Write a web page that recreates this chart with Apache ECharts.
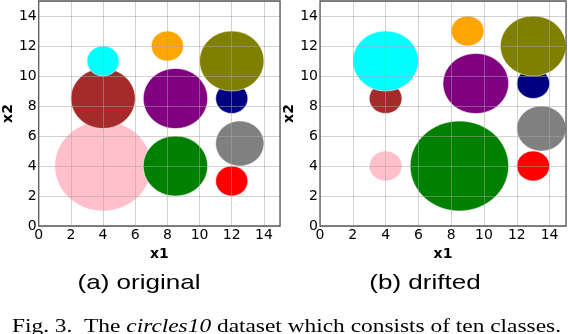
<!DOCTYPE html>
<html>
<head>
<meta charset="utf-8">
<script src="https://cdn.jsdelivr.net/npm/echarts@6/dist/echarts.min.js"></script>
<style>
  html, body { margin: 0; padding: 0; background: #fff; }
  #chart { width: 568px; height: 334px; }
</style>
</head>
<body>
<div id="chart"></div>
<script>
// ten classes, drawn in this order (later ones on top)
var classes = ['pink', 'green', 'red', 'gray', 'navy', 'purple', 'brown', 'olive', 'orange', 'cyan'];
var classColors = ['#ffc0cb', '#008000', '#ff0000', '#808080', '#000080', '#800080', '#a52a2a', '#808000', '#ffa500', '#00ffff'];

// (a) original
var origX = [4, 8.5, 12, 12.5, 12, 8.5, 4, 12, 8, 4];
var origY = [4, 4, 3, 5.5, 8.5, 8.5, 8.5, 11, 12, 11];
var origR = [3, 2, 1, 1.5, 1, 2, 2, 2, 1, 1];

// (b) drifted
var driftX = [4, 8.5, 13, 13.5, 13, 9.5, 4, 13, 9, 4];
var driftY = [4, 4, 4, 6.5, 9.5, 9.5, 8.5, 12, 13, 11];
var driftR = [1, 3, 1, 1.5, 1, 2, 1, 2, 1, 2];

var axisTicks = [0, 2, 4, 6, 8, 10, 12, 14];

function buildData(xs, ys, rs){
	var data = [];
	for(var i = 0; i < classes.length; ++i){
		data.push({
			name : classes[i],
			value : [xs[i], ys[i], rs[i]],
			itemStyle : { color : classColors[i] }
		});
	}
	return data;
}

function renderCircle(params, api){
	var c = api.coord([api.value(0), api.value(1)]);
	var s = api.size([api.value(2), api.value(2)]);
	return {
		type : 'ellipse',
		shape : { cx : c[0], cy : c[1], rx : s[0], ry : s[1] },
		style : {
			fill : api.visual('color'),
			stroke : 'rgba(255,255,255,0.55)',
			lineWidth : 1
		}
	};
}

function makeAxis(idx, isX){
	return {
		type : 'value',
		gridIndex : idx,
		min : 0,
		max : 15,
		interval : axisTicks[1] - axisTicks[0],
		z : 5,
		name : isX ? 'x1' : 'x2',
		nameLocation : 'middle',
		nameGap : isX ? 13 : 22,
		nameTextStyle : {
			fontFamily : 'DejaVu Sans',
			fontWeight : 'bold',
			fontSize : 14,
			color : '#000'
		},
		axisLine : { show : false },
		axisTick : { show : false },
		axisLabel : {
			showMaxLabel : false,
			margin : 2,
			fontFamily : 'DejaVu Sans',
			fontSize : 14,
			color : '#000'
		},
		splitLine : {
			show : true,
			lineStyle : { color : 'rgba(165,165,165,0.5)', width : 1 }
		}
	};
}

// figure caption, stretched to the width it takes in the reference
var capLeft = 12, capRight = 561;
var capFont = '19px "Liberation Serif"';
var capItalic = 'italic 19px "Liberation Serif"';
var capParts = ['Fig. 3.  The ', 'circles10', ' dataset which consists of ten classes.'];
var ctx = document.createElement('canvas').getContext('2d');
ctx.font = capFont;
var capWidth = ctx.measureText(capParts[0]).width + ctx.measureText(capParts[2]).width;
ctx.font = capItalic;
capWidth += ctx.measureText(capParts[1]).width;
var capScale = (capRight - capLeft) / capWidth;

var option = {
	animation : false,
	backgroundColor : '#fff',
	grid : [
		{ left : 34, top : 1, width : 246, height : 225, show : true, z : 6,
		  borderColor : '#5a5a5a', borderWidth : 1.3, backgroundColor : 'transparent' },
		{ left : 320, top : 1, width : 246, height : 225, show : true, z : 6,
		  borderColor : '#5a5a5a', borderWidth : 1.3, backgroundColor : 'transparent' }
	],
	xAxis : [makeAxis(0, true), makeAxis(1, true)],
	yAxis : [makeAxis(0, false), makeAxis(1, false)],
	series : [
		{
			name : 'original',
			type : 'custom',
			xAxisIndex : 0,
			yAxisIndex : 0,
			renderItem : renderCircle,
			data : buildData(origX, origY, origR)
		},
		{
			name : 'drifted',
			type : 'custom',
			xAxisIndex : 1,
			yAxisIndex : 1,
			renderItem : renderCircle,
			data : buildData(driftX, driftY, driftR)
		}
	],
	graphic : [
		{ type : 'text', x : 139, y : 283, scaleX : 1.24,
		  style : { text : '(a) original', font : '21px "Liberation Sans"', fill : '#000',
		            align : 'center', verticalAlign : 'middle' } },
		{ type : 'text', x : 425, y : 283, scaleX : 1.24,
		  style : { text : '(b) drifted', font : '21px "Liberation Sans"', fill : '#000',
		            align : 'center', verticalAlign : 'middle' } },
		{ type : 'text', x : capLeft, y : 327, scaleX : capScale,
		  style : {
			text : '{n|' + capParts[0] + '}{i|' + capParts[1] + '}{n|' + capParts[2] + '}',
			verticalAlign : 'middle',
			rich : {
				n : { font : capFont, fill : '#000' },
				i : { font : capItalic, fill : '#000' }
			}
		  } }
	]
};

var chart = echarts.init(document.getElementById('chart'));
chart.setOption(option);
</script>
</body>
</html>
